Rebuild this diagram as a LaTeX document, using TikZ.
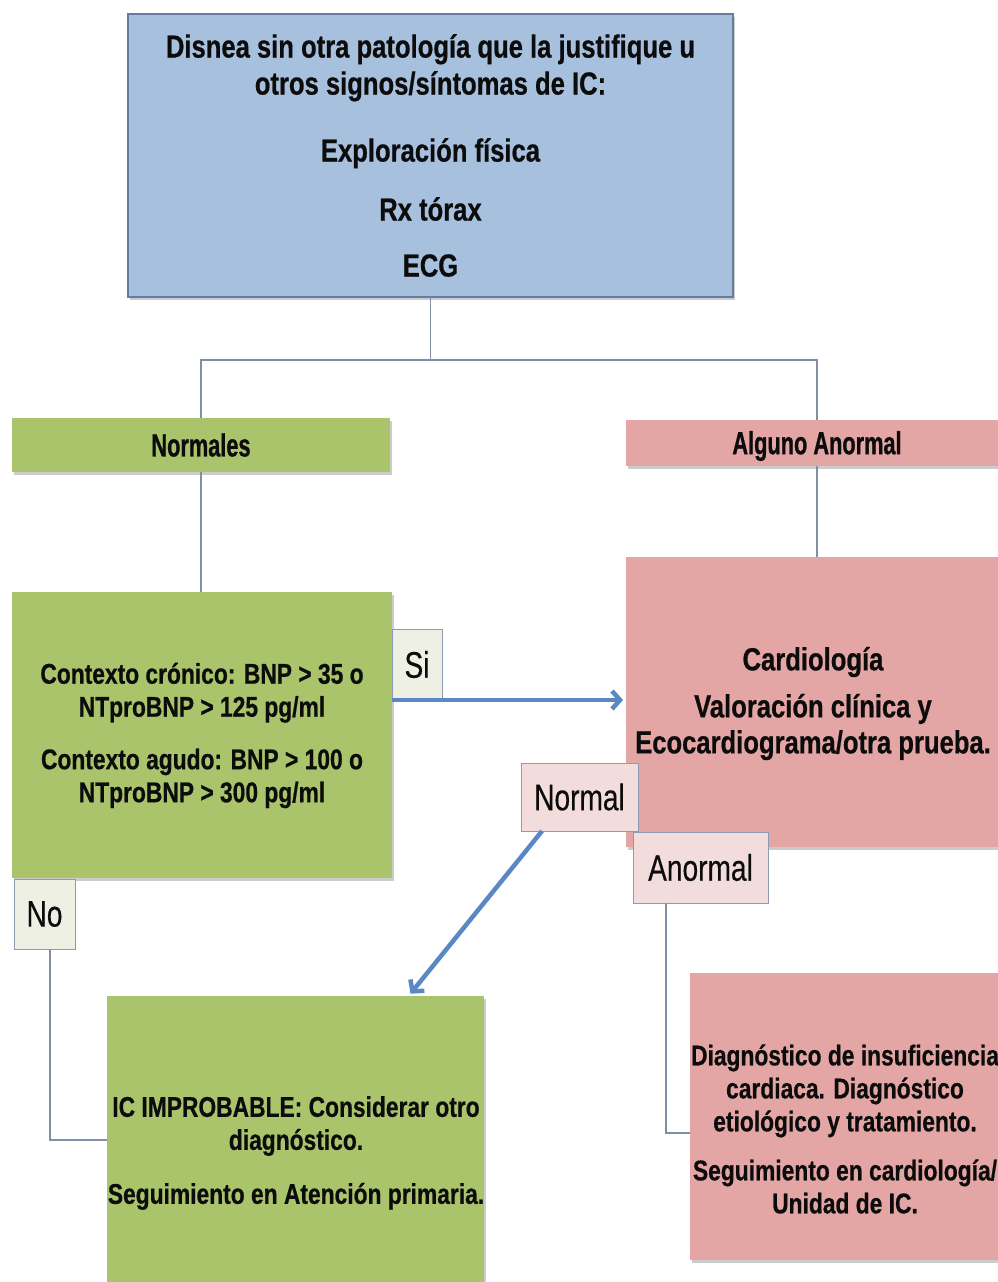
\documentclass[tikz,border=0pt]{standalone}
\usepackage{fontspec}
\setmainfont{Liberation Sans}
\newfontfamily\boxfont[FakeStretch=0.8,BoldFeatures={FakeBold=0.6}]{Liberation Sans}
\newfontfamily\barfont[FakeStretch=0.68,BoldFeatures={FakeBold=0.8}]{Liberation Sans}
\newfontfamily\tagfont[FakeStretch=0.76,FakeBold=0.3]{Liberation Sans}
\usetikzlibrary{arrows.meta,shadows,calc}

\definecolor{topfill}{RGB}{167,192,222}
\definecolor{topedge}{RGB}{100,124,160}
\definecolor{greenfill}{RGB}{170,196,108}
\definecolor{pinkfill}{RGB}{228,166,165}
\definecolor{tagedge}{RGB}{140,156,180}
\definecolor{tagcream}{RGB}{237,240,227}
\definecolor{tagpink}{RGB}{243,221,220}
\definecolor{linkgray}{RGB}{128,143,165}
\definecolor{arrowblue}{RGB}{90,136,196}
\definecolor{ink}{RGB}{12,12,12}

\begin{document}
\begin{tikzpicture}[x=1pt,y=-1pt,
  every node/.style={inner sep=0pt, outer sep=0pt, text=ink},
  shade/.style={drop shadow={shadow xshift=1.5pt,shadow yshift=-3pt,opacity=0.4}},
  topbox/.style={shade, fill=topfill, draw=topedge, line width=1.2pt},
  greenbox/.style={shade, fill=greenfill},
  pinkbox/.style={shade, fill=pinkfill},
  bigtext/.style={align=center, font=\boxfont\bfseries\fontsize{32}{37}\selectfont},
  smalltext/.style={align=center, font=\boxfont\bfseries\fontsize{28.5}{33}\selectfont},
  bartext/.style={font=\barfont\bfseries\fontsize{32}{36}\selectfont},
  tag/.style={draw=tagedge, line width=0.9pt, font=\tagfont\fontsize{37}{40}\selectfont},
  conn/.style={draw=linkgray, line width=1.1pt},
  flow/.style={draw=arrowblue, line width=4.5pt, shorten >=3pt,
    -{Straight Barb[length=8pt,width=18pt]}},
]
\useasboundingbox (0,0) rectangle (997,1282);
\fill[white] (0,0) rectangle (997,1282);

% main boxes
\node[topbox, minimum width=605pt, minimum height=283pt] (top) at (430.5,155.5) {};
\node[bigtext] (toptext) at (430.5,155.5)
  {Disnea sin otra patología que la justifique u\\otros signos/síntomas de IC:\\[30pt]Exploración física\\[22pt]Rx tórax\\[19pt]ECG};

\node[greenbox, bartext, minimum width=378pt, minimum height=54pt] (normales) at (201,445) {Normales};
\node[pinkbox, bartext, minimum width=382pt, minimum height=46pt] (alguno) at (817,443) {};
\node[bartext] (algunotext) at (817,446) {Alguno Anormal};

\node[greenbox, minimum width=380pt, minimum height=286pt] (green1) at (202,735) {};
\node[smalltext] (green1text) at (202,735.5)
  {Contexto crónico: BNP > 35 o\\NTproBNP > 125 pg/ml\\[19.5pt]Contexto agudo: BNP > 100 o\\NTproBNP > 300 pg/ml};

\node[pinkbox, minimum width=374pt, minimum height=290pt] (pink1) at (813,702) {};
\node[bigtext, font=\boxfont\bfseries\fontsize{32}{36}\selectfont] (pink1text) at (813,703.5)
  {Cardiología\\[11pt]Valoración clínica y\\Ecocardiograma/otra prueba.};

\node[greenbox, minimum width=377pt, minimum height=309pt] (green2) at (295.5,1150.5) {};
\node[smalltext] (green2text) at (296,1153)
  {IC IMPROBABLE: Considerar otro\\diagnóstico.\\[21pt]Seguimiento en Atención primaria.};

\node[pinkbox, minimum width=310pt, minimum height=287pt] (pink2) at (845,1116.5) {};
\node[smalltext] (pink2text) at (845,1129)
  {Diagnóstico de insuficiencia\\cardiaca. Diagnóstico\\etiológico y tratamiento.\\[16pt]Seguimiento en cardiología/\\Unidad de IC.};

% thin connectors
\coordinate (split) at (430.5,360);
\draw[conn] (top.south) -- (split) -| (normales.north);
\draw[conn] (split) -| (alguno.north);
\draw[conn] (normales.south) -- (normales.south |- green1.north);
\draw[conn] (alguno.south) -- (alguno.south |- pink1.north);

% answer tags
\node[tag, fill=tagcream, minimum width=50pt, minimum height=71pt] (si) at (417,664.5) {Si};
\node[tag, fill=tagcream, minimum width=61pt, minimum height=70pt] (no) at (44.5,914) {No};
\node[tag, fill=tagpink, minimum width=117pt, minimum height=68pt] (normal) at (579.5,797) {Normal};
\node[tag, fill=tagpink, minimum width=135pt, minimum height=71pt] (anormal) at (700.5,867.5) {Anormal};

\coordinate (nobend) at (50,1140);
\draw[conn] (no.south -| nobend) -- (nobend) -- (nobend -| green2.west);
\coordinate (anbend) at (666,1133);
\draw[conn] (anormal.south -| anbend) -- (anbend) -- (anbend -| pink2.west);

% blue flow arrows
\draw[flow] (green1.east |- si.south) -- (pink1.west |- si.south);
\draw[flow] ($(normal.south west)!0.18!(normal.south east)$) -- ($(green2.north west)!0.8!(green2.north east)$);
\end{tikzpicture}
\end{document}
